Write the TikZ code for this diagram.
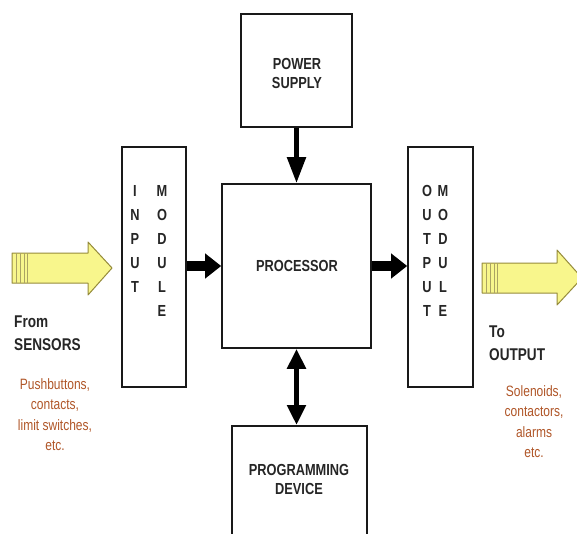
\documentclass[tikz,border=0pt]{standalone}
\usepackage{fontspec}
\setmainfont{Liberation Sans}
\newfontfamily\labelfont[FakeStretch=0.8]{Liberation Sans}
\usetikzlibrary{arrows.meta}

\definecolor{boxline}{RGB}{25,25,25}
\definecolor{note}{RGB}{176,86,40}
\definecolor{yfill}{RGB}{248,246,140}
\definecolor{yline}{RGB}{150,140,60}

\tikzset{
  box/.style={draw=boxline, line width=1.6pt, fill=white, inner sep=0pt},
  caps/.style={font=\labelfont\bfseries\fontsize{16}{19}\selectfont, align=center, text=black!85},
  column/.style={font=\labelfont\bfseries\fontsize{16}{24}\selectfont, align=center, inner sep=0pt, text=black!85},
  side/.style={font=\labelfont\bfseries\fontsize{17}{23}\selectfont, align=left, anchor=west, inner sep=0pt, text=black!85},
  notes/.style={font=\labelfont\fontsize{15}{20.5}\selectfont, align=center, text=note, inner sep=0pt},
  vflow/.style={line width=5pt, draw=black, -{Triangle[length=26pt,width=18pt]}},
  hflow/.style={line width=10pt, draw=black, -{Triangle[length=16pt,width=24pt]}},
  both/.style={line width=5pt, draw=black, {Triangle[length=20pt,width=18pt]}-{Triangle[length=20pt,width=18pt]}},
  yarrow/.style={fill=yfill, draw=yline, line width=1pt, line join=round},
  stripe/.style={draw=yline!80, line width=0.6pt}
}

\begin{document}
\begin{tikzpicture}[x=1pt, y=-1pt]
\useasboundingbox (0,0) rectangle (577,533);
\fill[white] (0,0) rectangle (577,533);
\clip (0,0) rectangle (577,533);

% main blocks
\node[box, minimum width=111pt, minimum height=113pt] (psu) at (296.5,70.5) {};
\node[caps] (psutext) at (297,73) {POWER\\SUPPLY};
\node[box, minimum width=149pt, minimum height=164pt] (proc) at (296.5,266) {};
\node[caps] (proctext) at (297,266) {PROCESSOR};
\node[box, minimum width=64pt, minimum height=240pt] (inmod) at (154,267) {};
\node[box, minimum width=65pt, minimum height=240pt] (outmod) at (440.5,267) {};
\node[box, minimum width=135pt, minimum height=130pt, anchor=north] (prog) at (299.5,425) {};
\node[caps] (progtext) at (299,479) {PROGRAMMING\\DEVICE};

% vertical lettering inside the I/O modules
\node[column, anchor=north] (inA) at (135,185) {I\\N\\P\\U\\T};
\node[column, anchor=north] (inB) at (162,185) {M\\O\\D\\U\\L\\E};
\node[column, anchor=north] (outA) at (427,185) {O\\U\\T\\P\\U\\T};
\node[column, anchor=north] (outB) at (443,185) {M\\O\\D\\U\\L\\E};

% signal flow
\draw[vflow] (psu.south) -- (proc.north);
\draw[hflow] (inmod.east |- proc.west) -- (proc.west);
\draw[hflow] (proc.east) -- (outmod.west |- proc.east);
\draw[both] (proc.south) -- (proc.south |- prog.north);

% field-side block arrows
\path[yarrow] (12,253) -- (88,253) -- (88,242) -- (112,268) -- (88,295) -- (88,283) -- (12,283) -- cycle;
\foreach \sx in {16,20,24,27} \draw[stripe] (\sx,253) -- (\sx,283);
\path[yarrow] (482,263) -- (557,263) -- (557,250) -- (582,278) -- (557,305) -- (557,293) -- (482,293) -- cycle;
\foreach \sx in {486,490,494,497} \draw[stripe] (\sx,263) -- (\sx,293);

% field-side labels
\node[side] (from) at (14,333) {From\\SENSORS};
\node[notes, anchor=north] (sensors) at (55,378) {Pushbuttons,\\contacts,\\limit switches,\\etc.};
\node[side] (to) at (489,343.5) {To\\OUTPUT};
\node[notes, anchor=north] (actuators) at (534,385) {Solenoids,\\contactors,\\alarms\\etc.};
\end{tikzpicture}
\end{document}
